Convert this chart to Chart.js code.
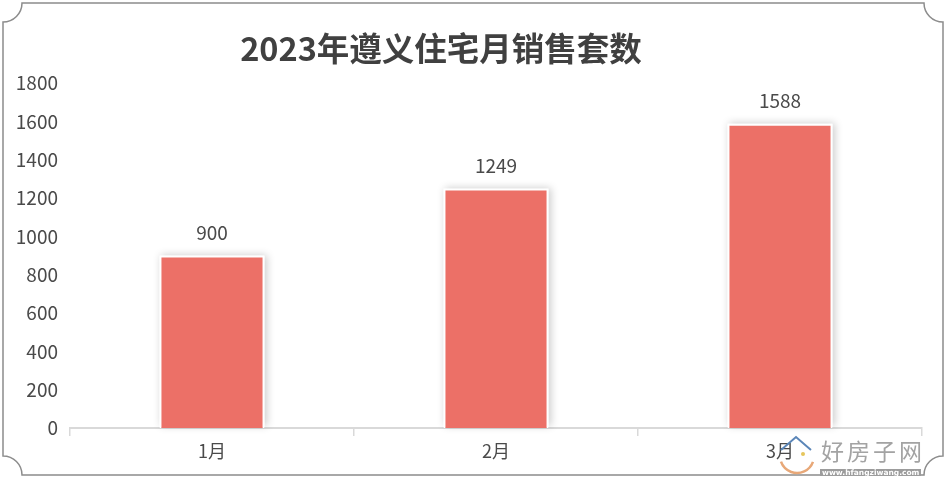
<!DOCTYPE html>
<html>
<head>
<meta charset="utf-8">
<script src="https://cdn.jsdelivr.net/npm/chart.js@4"></script>
<style>
    html, body { margin: 0; padding: 0; background: #fff; }
    canvas { display: block; }
</style>
</head>
<body>
<canvas id="salesChart" width="945" height="480"></canvas>
<script>
const months = ['1月', '2月', '3月'];
const sales = [900, 1249, 1588];
const yTicks = [0, 200, 400, 600, 800, 1000, 1200, 1400, 1600, 1800];
const chartTitle = '2023年遵义住宅月销售套数';
const fontName = '"Noto Sans CJK SC", "Noto Sans", sans-serif';
const textColor = '#4a4a4a';

// Frame with the scooped corners, drawn behind everything
const framePlugin = {
    id: 'frame',
    beforeDraw(chart) {
        const ctx = chart.ctx;
        const l = 3, t = 3, r = 943, b = 475, c = 19;
        ctx.save();
        ctx.strokeStyle = '#8c8c8c';
        ctx.lineWidth = 1.5;
        ctx.beginPath();
        ctx.moveTo(l + c, t);
        ctx.lineTo(r - c, t);
        ctx.arc(r, t, c, Math.PI, Math.PI / 2, true);
        ctx.lineTo(r, b - c);
        ctx.arc(r, b, c, -Math.PI / 2, Math.PI, true);
        ctx.lineTo(l + c, b);
        ctx.arc(l, b, c, 0, -Math.PI / 2, true);
        ctx.lineTo(l, t + c);
        ctx.arc(l, t, c, Math.PI / 2, 0, true);
        ctx.closePath();
        ctx.stroke();
        ctx.restore();
    }
};

// Title sits left of the canvas centre in the original
const titleShift = {
    id: 'titleShift',
    afterLayout(chart) {
        chart.titleBlock.left = 0;
        chart.titleBlock.right = 882;
    }
};

// Soft shadow around the bars. The bar element clips to its own box,
// so the shadow goes down first as a white rect under each bar
const barShadow = {
    id: 'barShadow',
    beforeDatasetsDraw(chart) {
        const ctx = chart.ctx;
        ctx.save();
        ctx.shadowColor = 'rgba(0, 0, 0, 0.2)';
        ctx.shadowBlur = 8;
        ctx.shadowOffsetX = 2;
        ctx.shadowOffsetY = -1;
        ctx.fillStyle = '#ffffff';
        chart.getDatasetMeta(0).data.forEach(bar => {
            const p = bar.getProps(['x', 'y', 'base', 'width']);
            ctx.fillRect(p.x - p.width / 2, p.y, p.width, p.base - p.y - 1);
        });
        ctx.restore();
    }
};

// Value above each bar
const valueLabels = {
    id: 'valueLabels',
    afterDatasetsDraw(chart) {
        const ctx = chart.ctx;
        ctx.save();
        ctx.font = '19px ' + fontName;
        ctx.fillStyle = textColor;
        ctx.textAlign = 'center';
        ctx.textBaseline = 'middle';
        chart.getDatasetMeta(0).data.forEach((bar, i) => {
            ctx.fillText(sales[i], bar.x, bar.y - 23);
        });
        ctx.restore();
    }
};

// Site watermark, bottom right
const watermark = {
    id: 'watermark',
    afterDraw(chart) {
        const ctx = chart.ctx;
        ctx.save();
        ctx.strokeStyle = '#5b86b8';
        ctx.lineWidth = 2;
        ctx.beginPath();
        ctx.moveTo(781, 450);
        ctx.lineTo(796, 437);
        ctx.lineTo(811, 450);
        ctx.stroke();
        ctx.fillStyle = '#e6c65c';
        ctx.beginPath();
        ctx.arc(803, 454, 2, 0, Math.PI * 2);
        ctx.fill();
        ctx.strokeStyle = '#e8a878';
        ctx.lineWidth = 2.5;
        ctx.beginPath();
        ctx.arc(797, 456, 17, 0.35, 2.8);
        ctx.stroke();
        ctx.font = '23px "Noto Sans CJK SC", serif';
        ctx.fillStyle = '#a3a3a3';
        ctx.textAlign = 'left';
        ctx.textBaseline = 'middle';
        ctx.letterSpacing = '3px';
        ctx.fillText('好房子网', 821, 451);
        ctx.letterSpacing = '0px';
        ctx.fillStyle = '#9c9c9c';
        ctx.fillRect(820, 469, 101, 7);
        ctx.font = 'bold 7.5px "DejaVu Sans", sans-serif';
        ctx.fillStyle = '#fff';
        ctx.fillText('www.hfangziwang.com', 822, 473);
        ctx.restore();
    }
};

new Chart(document.getElementById('salesChart').getContext('2d'), {
    type: 'bar',
    data: {
        labels: months,
        datasets: [{
            data: sales,
            backgroundColor: '#ec7067',
            borderColor: '#ffffff',
            borderWidth: 2,
            barPercentage: 0.37,
            categoryPercentage: 1
        }]
    },
    plugins: [framePlugin, titleShift, barShadow, valueLabels, watermark],
    options: {
        responsive: false,
        animation: false,
        layout: { padding: { left: 10, right: 23, top: 29, bottom: 0 } },
        plugins: {
            legend: { display: false },
            tooltip: { enabled: false },
            title: {
                display: true,
                text: chartTitle,
                color: '#404040',
                font: { family: fontName, size: 32.5, weight: 'bold', lineHeight: 1.2 },
                padding: { top: 0, bottom: 15 }
            }
        },
        scales: {
            x: {
                grid: {
                    drawOnChartArea: false,
                    drawTicks: true,
                    tickLength: 8,
                    color: '#d9d9d9',
                    lineWidth: 1.5
                },
                border: { color: '#d9d9d9', width: 2 },
                ticks: {
                    color: textColor,
                    padding: 4,
                    font: { family: fontName, size: 18 }
                },
                afterFit(scale) { scale.height = 52; }
            },
            y: {
                min: 0,
                max: 1800,
                grid: { display: false, drawTicks: false },
                border: { display: false },
                afterBuildTicks(scale) { scale.ticks = yTicks.map(v => ({ value: v })); },
                ticks: {
                    color: textColor,
                    padding: 12,
                    callback: value => String(value),
                    font: { family: fontName, size: 19 }
                },
                afterFit(scale) { scale.width = 60; }
            }
        }
    }
});
</script>
</body>
</html>
